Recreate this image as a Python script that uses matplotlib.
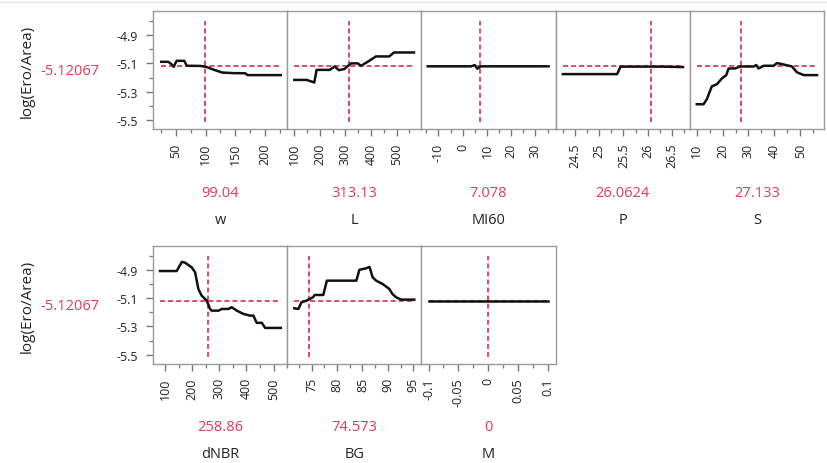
import matplotlib
matplotlib.use('Agg')
import matplotlib.pyplot as plt
from matplotlib.ticker import FixedLocator, FixedFormatter, MultipleLocator

plt.rcParams['font.family'] = ['Open Sans', 'DejaVu Sans']
plt.rcParams['axes.unicode_minus'] = False
plt.rcParams['lines.scale_dashes'] = False

# ---------------- data ----------------
response_name = 'log(Ero/Area)'
response_current = -5.12067
y_ticks = [-4.9, -5.1, -5.3, -5.5]
y_tick_labels = ['-4.9', '-5.1', '-5.3', '-5.5']

factor_names = ['w', 'L', 'MI60', 'P', 'S', 'dNBR', 'BG', 'M']
factor_current = ['99.04', '313.13', '7.078', '26.0624', '27.133', '258.86', '74.573', '0']

w_x = [25, 37, 42, 46, 51, 64, 68, 91, 101, 114, 128, 147, 167, 171, 227]
w_y = [-5.089, -5.089, -5.105, -5.124, -5.082, -5.082, -5.117, -5.118, -5.125,
       -5.145, -5.165, -5.169, -5.170, -5.183, -5.183]

L_x = [100, 148, 170, 178, 187, 238, 258, 274, 296, 322, 348, 361, 393, 419, 471, 490, 568]
L_y = [-5.217, -5.217, -5.230, -5.235, -5.146, -5.146, -5.122, -5.148, -5.140,
       -5.100, -5.100, -5.117, -5.082, -5.051, -5.051, -5.023, -5.023]

MI60_x = [-14.4, 3.5, 5.0, 6.0, 7.5, 35.4]
MI60_y = [-5.121, -5.121, -5.112, -5.138, -5.121, -5.121]

P_x = [24.25, 25.37, 25.44, 26.3, 26.73]
P_y = [-5.176, -5.176, -5.123, -5.123, -5.126]

S_x = [10, 12.6, 13.9, 15.8, 17.8, 19.7, 21.4, 22.3, 24.8, 26.8, 32, 33, 33.9,
       35.9, 39.7, 41, 42.9, 46.8, 48.8, 51.4, 56.5]
S_y = [-5.389, -5.389, -5.353, -5.263, -5.247, -5.207, -5.183, -5.136, -5.136,
       -5.122, -5.122, -5.112, -5.136, -5.117, -5.117, -5.098, -5.105, -5.122,
       -5.164, -5.183, -5.183]

dNBR_x = [81.5, 143, 162, 174, 198.5, 211, 223, 235, 254, 266, 272, 297, 309, 334,
          346, 365, 389, 414, 426, 438, 457, 469, 527]
dNBR_y = [-4.909, -4.909, -4.844, -4.850, -4.883, -4.918, -5.036, -5.083, -5.118,
          -5.177, -5.189, -5.189, -5.177, -5.177, -5.165, -5.189, -5.212, -5.224,
          -5.224, -5.275, -5.275, -5.311, -5.311]

BG_x = [71.6, 72.4, 73.0, 74.0, 75.3, 75.6, 77.3, 78.0, 83.8, 84.4, 85.7, 86.4,
        87.0, 87.7, 89.0, 90.3, 90.9, 91.6, 92.6, 95.2]
BG_y = [-5.172, -5.177, -5.130, -5.118, -5.094, -5.078, -5.078, -4.977, -4.977,
        -4.900, -4.890, -4.880, -4.953, -4.977, -5.001, -5.036, -5.071, -5.094,
        -5.111, -5.111]

M_x = [-0.1, 0.1]
M_y = [-5.12067, -5.12067]

curves_x = [w_x, L_x, MI60_x, P_x, S_x, dNBR_x, BG_x, M_x]
curves_y = [w_y, L_y, MI60_y, P_y, S_y, dNBR_y, BG_y, M_y]

x_ticks = [[50, 100, 150, 200],
           [100, 200, 300, 400, 500],
           [-10, 0, 10, 20, 30],
           [24.5, 25, 25.5, 26, 26.5],
           [10, 20, 30, 40, 50],
           [100, 200, 300, 400, 500],
           [75, 80, 85, 90, 95],
           [-0.1, -0.05, 0, 0.05, 0.1]]
x_tick_labels = [['50', '100', '150', '200'],
                 ['100', '200', '300', '400', '500'],
                 ['-10', '0', '10', '20', '30'],
                 ['24.5', '25', '25.5', '26', '26.5'],
                 ['10', '20', '30', '40', '50'],
                 ['100', '200', '300', '400', '500'],
                 ['75', '80', '85', '90', '95'],
                 ['-0.1', '-0.05', '0', '0.05', '0.1']]

# ---------------- styling / layout ----------------
x_limits = [(11, 238), (72, 597), (-17, 38.3), (24.1, 26.87), (7.3, 59.2),
            (55.7, 550.5), (70.2, 96.6), (-0.112, 0.113)]
x_minor = [25, 50, 5, 0.25, 5, 50, 2.5, 0.025]
y_limits = (-5.566, -4.732)
vline_span = (-5.516, -4.80)

RED = '#dc3c5a'
TXT = '#222222'
W, H = 827, 464
fig = plt.figure(figsize=(W / 100, H / 100), dpi=100)

# light rule at the top
fig.add_artist(plt.Line2D([0, 1], [1 - 3 / H, 1 - 3 / H], color='#e4e4e4', lw=1))

left0 = 153.0
pw = 134.2
row_tops = [12.3, 247.0]
ph = 118.0

for idx in range(8):
    row = 0 if idx < 5 else 1
    col = idx if idx < 5 else idx - 5
    x0 = left0 + col * pw
    top = row_tops[row]
    ax = fig.add_axes([x0 / W, 1 - (top + ph) / H, pw / W, ph / H])
    ax.set_xlim(*x_limits[idx])
    ax.set_ylim(*y_limits)
    for s in ax.spines.values():
        s.set_color('#9a9a9a')
        s.set_linewidth(1.0)

    cur = float(factor_current[idx])
    xs = curves_x[idx]
    ax.plot([cur, cur], list(vline_span), color=RED, lw=1.3,
            linestyle=(0, (3.6, 2.2)), zorder=2)
    ax.plot([min(xs), max(xs)], [response_current, response_current], color=RED,
            lw=1.3, linestyle=(0, (3.6, 2.2)), zorder=2)
    ax.plot(xs, curves_y[idx], color='#111111', lw=1.8, zorder=3,
            solid_joinstyle='round')

    ax.xaxis.set_major_locator(FixedLocator(x_ticks[idx]))
    ax.xaxis.set_major_formatter(FixedFormatter(x_tick_labels[idx]))
    ax.xaxis.set_minor_locator(MultipleLocator(x_minor[idx]))
    ax.tick_params(axis='x', which='major', length=5, width=1.0, color='#777777',
                   labelsize=8.9, labelcolor=TXT, labelrotation=90, pad=4.5)
    ax.tick_params(axis='x', which='minor', length=3, width=0.9, color='#777777')

    if col == 0:
        ax.yaxis.set_major_locator(FixedLocator(y_ticks))
        ax.yaxis.set_major_formatter(FixedFormatter(y_tick_labels))
        ax.yaxis.set_minor_locator(MultipleLocator(0.1))
        ax.tick_params(axis='y', which='major', length=5, width=1.0, color='#777777',
                       labelsize=8.9, labelcolor=TXT, pad=6)
        ax.tick_params(axis='y', which='minor', length=3, width=0.9, color='#777777')
    else:
        ax.set_yticks([])
        ax.yaxis.set_minor_locator(FixedLocator([]))

    cx = (x0 + pw / 2) / W
    fig.text(cx, 1 - (top + 181) / H, factor_current[idx], color=RED,
             fontsize=10.5, ha='center', va='center')
    fig.text(cx, 1 - (top + 208) / H, factor_names[idx], color=TXT,
             fontsize=10.5, ha='center', va='center')

    if col == 0:
        yc = 1 - (top + ph / 2) / H
        fig.text(27 / W, yc, response_name, rotation=90, color=TXT, fontsize=11,
                 ha='center', va='center')
        fig.text(70 / W, 1 - (top + 59.5) / H, '-5.12067', color=RED,
                 fontsize=10.5, ha='center', va='center')

fig.savefig('out.png', dpi=100, facecolor='white')
